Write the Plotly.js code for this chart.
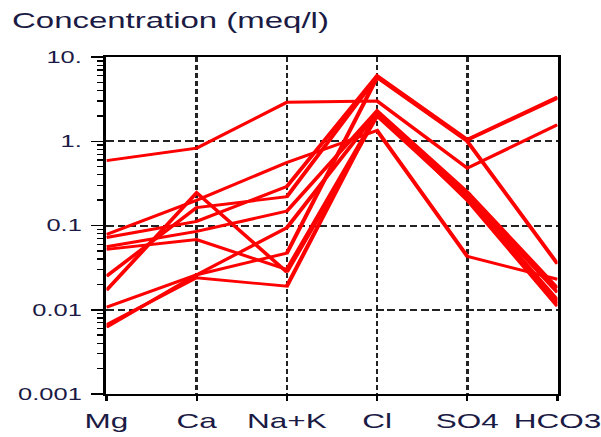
<!DOCTYPE html>
<html>
<head>
<meta charset="utf-8">
<script src="https://cdn.plot.ly/plotly-3.0.1.min.js"></script>
<style>
  html, body { margin: 0; padding: 0; background: #fff; overflow: hidden; }
  #wrap { width: 601px; height: 437px; overflow: hidden; }
  #chart { width: 401px; height: 437px; transform: scaleX(1.49875); transform-origin: 0 0; }
</style>
</head>
<body>
<div id="wrap"><div id="chart"></div></div>
<script>
// Categories (ions) and tick labels
var categories = ['Mg', 'Ca', 'Na+K', 'Cl', 'SO4', 'HCO3'];
var yTickVals = [0.001, 0.01, 0.1, 1, 10];
var yTickText = ['0.001', '0.01', '0.1', '1.', '10.'];

// Samples (meq/l)
var sample1  = [0.59,   0.83,  2.9,   3.0,  0.48,  1.57];
var sample2  = [0.078,  0.2,   0.56,  1.34, 0.043, 0.023];
var sample3  = [0.072,  0.112, 0.29,  6.0,  1.05,  3.35];
var sample4  = [0.056,  0.085, 0.148, 2.3,  0.25,  0.018];
var sample5  = [0.052,  0.068, 0.03,  2.1,  0.22,  0.013];
var sample6  = [0.025,  0.163, 0.22,  5.8,  1.03,  3.25];
var sample7  = [0.017,  0.245, 0.028, 2.0,  0.21,  0.012];
var sample8  = [0.0107, 0.026, 0.094, 2.2,  0.23,  0.016];
var sample9  = [0.0066, 0.024, 0.019, 2.2,  0.2,   0.011];
var sample10 = [0.0062, 0.026, 0.047, 5.7,  1.0,   0.035];

var samples = [sample1, sample2, sample3, sample4, sample5,
               sample6, sample7, sample8, sample9, sample10];

var traces = samples.map(function (vals, i) {
  return {
    x: categories,
    y: vals,
    type: 'scatter',
    mode: 'lines',
    name: 'Sample ' + (i + 1),
    line: { color: '#ff0000', width: 2.9 },
    showlegend: false,
    hoverinfo: 'x+y'
  };
});

// minor tick positions (2..9 per decade)
var minorVals = [];
for (var d = -3; d < 1; d++) {
  for (var m = 2; m <= 9; m++) minorVals.push(m * Math.pow(10, d));
}

var textColor = '#1a1a44';

var layout = {
  width: 401,
  height: 437,
  margin: { l: 71, r: 29, t: 57, b: 43, pad: 0 },
  paper_bgcolor: '#ffffff',
  plot_bgcolor: '#ffffff',
  font: { family: 'Liberation Sans, Arial, sans-serif', color: textColor },
  title: {
    text: 'Concentration (meq/l)',
    font: { family: 'Liberation Sans, Arial, sans-serif', size: 22, color: textColor },
    xref: 'container', yref: 'container',
    x: 0.02, xanchor: 'left',
    y: 0.953, yanchor: 'middle',
    pad: { t: 0, b: 0, l: 0, r: 0 }
  },
  xaxis: {
    type: 'category',
    range: [0, 5],
    fixedrange: true,
    showline: true, linecolor: '#000', linewidth: 2, mirror: true,
    showgrid: true, gridcolor: '#222', gridwidth: 1.8, griddash: '5px,3px',
    ticks: 'outside', ticklen: 5, tickwidth: 1.5, tickcolor: '#000',
    tickfont: { size: 21, color: textColor },
    ticklabelstandoff: 2,
    zeroline: false
  },
  yaxis: {
    type: 'log',
    range: [-3, 1],
    fixedrange: true,
    tickmode: 'array',
    tickvals: yTickVals,
    ticktext: yTickText,
    showline: true, linecolor: '#000', linewidth: 2, mirror: true,
    showgrid: true, gridcolor: '#222', gridwidth: 2, griddash: '5px,2.5px',
    ticks: 'outside', ticklen: 8, tickwidth: 1.5, tickcolor: '#000',
    tickfont: { size: 17, color: textColor },
    ticklabelstandoff: 3,
    minor: {
      tickmode: 'array',
      tickvals: minorVals,
      ticks: 'outside', ticklen: 4.5, tickwidth: 1.3, tickcolor: '#000',
      showgrid: false
    },
    zeroline: false
  }
};

Plotly.newPlot('chart', traces, layout, { displayModeBar: false, staticPlot: true });
</script>
</body>
</html>
